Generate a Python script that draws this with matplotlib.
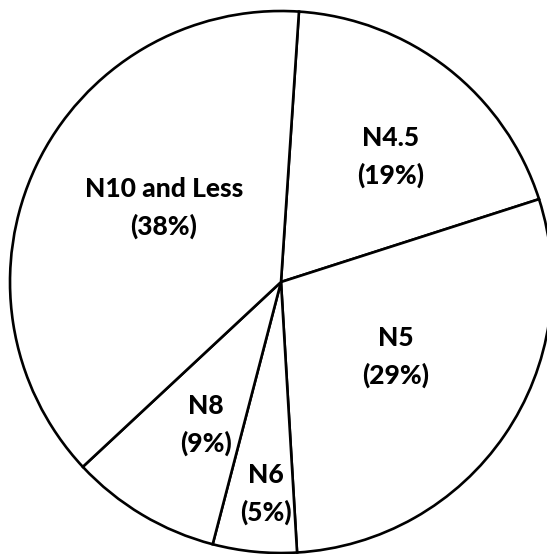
import matplotlib.pyplot as plt

# shares by grade
labels = ['N4.5', 'N5', 'N6', 'N8', 'N10 and Less']
shares = [19, 29, 5, 9, 38]

# where each label sits (pixel coords, y from the top)
label_pos = [(391, 157), (396, 357), (266, 494), (206, 425), (164, 208)]

W, H = 547, 554
fig = plt.figure(figsize=(W / 100, H / 100), dpi=100)
ax = fig.add_axes([0, 0, 1, 1])

cx, cy, r = 281, H - 282, 271
ax.pie(shares, startangle=86.2, counterclock=False, center=(cx, cy), radius=r,
       colors=['white'] * len(shares),
       wedgeprops=dict(edgecolor='black', linewidth=1.9))

for lab, s, (x, y) in zip(labels, shares, label_pos):
    ax.text(x, H - y, '%s\n(%d%%)' % (lab, s), ha='center', va='center',
            fontsize=19, fontweight='black', family='Lato', linespacing=1.6)

ax.set_xlim(0, W)
ax.set_ylim(0, H)
ax.set_aspect('equal')
ax.axis('off')

fig.savefig('out.png', dpi=100, facecolor='white')
